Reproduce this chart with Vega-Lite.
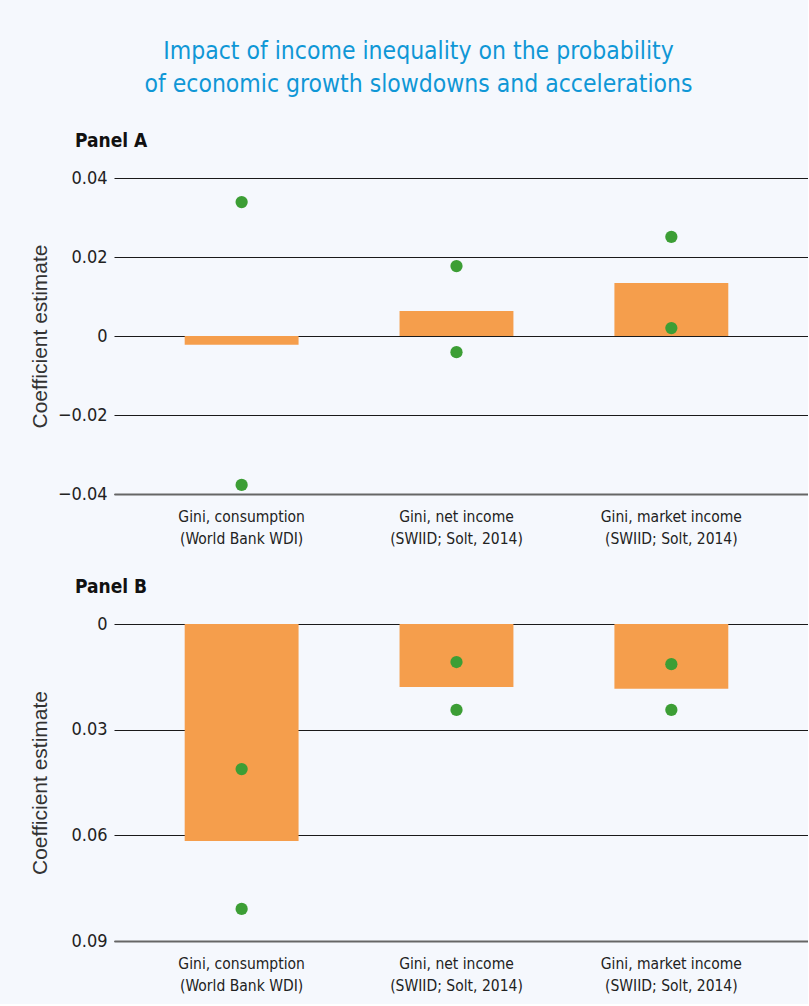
{
  "$schema": "https://vega.github.io/schema/vega-lite/v6.json",
  "background": "#f5f8fd",
  "padding": {"left": 29, "top": 38, "right": 0, "bottom": 10},
  "title": {
    "text": ["Impact of income inequality on the probability", "of economic growth slowdowns and accelerations"],
    "color": "#0f97d6",
    "font": "DejaVu Sans Condensed, Liberation Sans",
    "fontSize": 24.5,
    "fontWeight": "normal",
    "lineHeight": 33,
    "anchor": "middle",
    "frame": "bounds",
    "offset": 35
  },
  "datasets": {
    "panelA": [
      {"category": "Gini, consumption (World Bank WDI)", "measure": "estimate", "value": -0.0022},
      {"category": "Gini, consumption (World Bank WDI)", "measure": "upper", "value": 0.0339},
      {"category": "Gini, consumption (World Bank WDI)", "measure": "lower", "value": -0.0377},
      {"category": "Gini, net income (SWIID; Solt, 2014)", "measure": "estimate", "value": 0.0063},
      {"category": "Gini, net income (SWIID; Solt, 2014)", "measure": "upper", "value": 0.0177},
      {"category": "Gini, net income (SWIID; Solt, 2014)", "measure": "lower", "value": -0.0041},
      {"category": "Gini, market income (SWIID; Solt, 2014)", "measure": "estimate", "value": 0.0134},
      {"category": "Gini, market income (SWIID; Solt, 2014)", "measure": "upper", "value": 0.0251},
      {"category": "Gini, market income (SWIID; Solt, 2014)", "measure": "lower", "value": 0.002}
    ],
    "panelB": [
      {"category": "Gini, consumption (World Bank WDI)", "measure": "estimate", "value": 0.0616},
      {"category": "Gini, consumption (World Bank WDI)", "measure": "upper", "value": 0.0412},
      {"category": "Gini, consumption (World Bank WDI)", "measure": "lower", "value": 0.0809},
      {"category": "Gini, net income (SWIID; Solt, 2014)", "measure": "estimate", "value": 0.0179},
      {"category": "Gini, net income (SWIID; Solt, 2014)", "measure": "upper", "value": 0.0108},
      {"category": "Gini, net income (SWIID; Solt, 2014)", "measure": "lower", "value": 0.0244},
      {"category": "Gini, market income (SWIID; Solt, 2014)", "measure": "estimate", "value": 0.0184},
      {"category": "Gini, market income (SWIID; Solt, 2014)", "measure": "upper", "value": 0.0114},
      {"category": "Gini, market income (SWIID; Solt, 2014)", "measure": "lower", "value": 0.0244}
    ]
  },
  "spacing": 31,
  "vconcat": [
    {
      "width": 694,
      "height": 316,
      "title": {"text": "Panel A", "anchor": "start", "frame": "group", "dx": -39, "offset": 18},
      "data": {"name": "panelA"},
      "encoding": {
        "x": {
          "field": "category", "type": "nominal", "sort": null,
          "scale": {"paddingInner": 0.47, "paddingOuter": 0.35, "align": 0.47},
          "axis": {"title": null}
        }
      },
      "layer": [
        {
          "transform": [{"filter": "datum.measure == 'estimate'"}],
          "mark": {"type": "bar", "color": "#f59e4c"},
          "encoding": {
            "y": {
              "field": "value", "type": "quantitative",
              "scale": {"domain": [-0.04, 0.04], "nice": false, "zero": true},
              "axis": {"title": "Coefficient estimate", "values": [-0.04, -0.02, 0, 0.02, 0.04], "format": ".2~f"}
            }
          }
        },
        {
          "transform": [{"filter": "datum.measure != 'estimate'"}],
          "mark": {"type": "circle", "color": "#3c9e35", "opacity": 1, "size": 150},
          "encoding": {"y": {"field": "value", "type": "quantitative"}}
        }
      ]
    },
    {
      "width": 694,
      "height": 317,
      "title": {"text": "Panel B", "anchor": "start", "frame": "group", "dx": -39, "offset": 18},
      "data": {"name": "panelB"},
      "encoding": {
        "x": {
          "field": "category", "type": "nominal", "sort": null,
          "scale": {"paddingInner": 0.47, "paddingOuter": 0.35, "align": 0.47},
          "axis": {"title": null}
        }
      },
      "layer": [
        {
          "transform": [{"filter": "datum.measure == 'estimate'"}],
          "mark": {"type": "bar", "color": "#f59e4c"},
          "encoding": {
            "y": {
              "field": "value", "type": "quantitative",
              "scale": {"domain": [0, 0.09], "nice": false, "reverse": true},
              "axis": {"title": "Coefficient estimate", "values": [0, 0.03, 0.06, 0.09], "format": ".2~f"}
            }
          }
        },
        {
          "transform": [{"filter": "datum.measure != 'estimate'"}],
          "mark": {"type": "circle", "color": "#3c9e35", "opacity": 1, "size": 150},
          "encoding": {"y": {"field": "value", "type": "quantitative"}}
        }
      ]
    }
  ],
  "config": {
    "view": {"stroke": null},
    "title": {
      "font": "DejaVu Sans Condensed, Liberation Sans",
      "fontSize": 19,
      "fontWeight": "bold",
      "color": "#111111"
    },
    "axisX": {
      "labelExpr": "[slice(datum.label, 0, indexof(datum.label, ' (')), slice(datum.label, indexof(datum.label, ' (') + 1)]",
      "labelAngle": 0,
      "labelFont": "DejaVu Sans Condensed, Liberation Sans",
      "labelFontSize": 15.5,
      "labelLineHeight": 22,
      "labelColor": "#222222",
      "labelPadding": 15,
      "ticks": false,
      "domain": true,
      "domainColor": "#666666",
      "domainWidth": 2,
      "grid": false
    },
    "axisY": {
      "labelFont": "DejaVu Sans Condensed, Liberation Sans",
      "labelFontSize": 18,
      "labelColor": "#222222",
      "labelPadding": 7,
      "ticks": false,
      "domain": false,
      "grid": true,
      "gridColor": "#1a1a1a",
      "gridWidth": 1,
      "gridOpacity": 1,
      "titleFont": "Liberation Sans",
      "titleFontSize": 21,
      "titleFontWeight": "normal",
      "titleColor": "#333333",
      "titleX": -68,
      "titleBaseline": "alphabetic"
    }
  }
}
